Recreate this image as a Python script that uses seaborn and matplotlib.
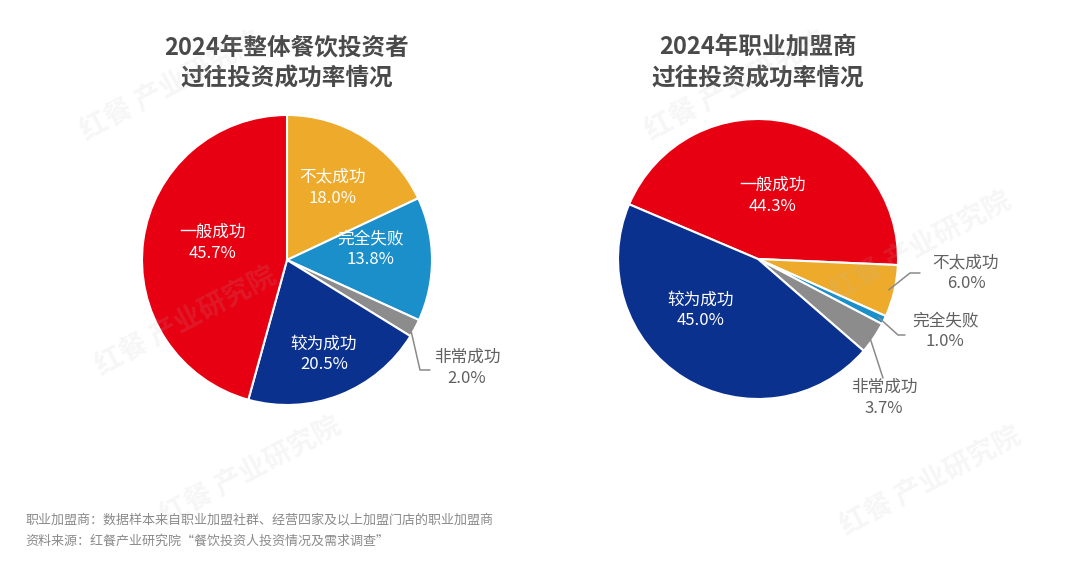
import matplotlib

matplotlib.use("Agg")

import matplotlib.pyplot as plt
import numpy as np
import seaborn as sns

# ---- data -------------------------------------------------------------
left_title = "2024年整体餐饮投资者\n过往投资成功率情况"
left_labels = ["不太成功", "完全失败", "非常成功", "较为成功", "一般成功"]
left_values = [18.0, 13.8, 2.0, 20.5, 45.7]

right_title = "2024年职业加盟商\n过往投资成功率情况"
right_labels = ["一般成功", "不太成功", "完全失败", "非常成功", "较为成功"]
right_values = [44.3, 6.0, 1.0, 3.7, 45.0]

footnotes = [
    "职业加盟商：数据样本来自职业加盟社群、经营四家及以上加盟门店的职业加盟商",
    "资料来源：红餐产业研究院“餐饮投资人投资情况及需求调查”",
]

PALETTE = {
    "一般成功": "#E60012",
    "不太成功": "#EDAA2B",
    "完全失败": "#1A8FC9",
    "非常成功": "#8C8C8C",
    "较为成功": "#0B318F",
}

W, H = 1080, 564


def Y(y):
    # image pixel row -> data y
    return H - y


sns.set_theme(style="white")
plt.rcParams["font.family"] = ["Noto Sans CJK SC", "DejaVu Sans"]

fig = plt.figure(figsize=(W / 100, H / 100), dpi=100)
fig.patch.set_facecolor("white")
ax = fig.add_axes([0, 0, 1, 1])


def draw_pie(values, labels, center, radius, start, inside, outside):
    wedges, _ = ax.pie(
        values,
        colors=[PALETTE[l] for l in labels],
        startangle=start,
        counterclock=False,
        center=center,
        radius=radius,
        wedgeprops=dict(edgecolor="white", linewidth=1.5),
    )
    cx, cy = center
    for w, lab, val in zip(wedges, labels, values):
        mid = np.deg2rad((w.theta1 + w.theta2) / 2)
        text = f"{lab}\n{val:.1f}%"
        if lab in inside:
            frac, dang = inside[lab]
            a = mid + np.deg2rad(dang)
            ax.text(cx + frac * radius * np.cos(a), cy + frac * radius * np.sin(a), text,
                    ha="center", va="center", color="white", fontsize=12,
                    linespacing=1.3, zorder=5)
        else:
            elbow, end, pos = outside[lab]
            sx, sy = cx + 0.96 * radius * np.cos(mid), cy + 0.96 * radius * np.sin(mid)
            pts = [(sx, sy), elbow] + ([end] if end else [])
            ax.plot([p[0] for p in pts], [p[1] for p in pts], color="#8a8a8a", lw=1.1, zorder=5)
            ax.text(pos[0], pos[1], text, ha="center", va="center", color="#606060",
                    fontsize=12, linespacing=1.3, zorder=5)


draw_pie(
    left_values, left_labels, (287, Y(260)), 145, 90,
    inside={"不太成功": (0.59, 0), "完全失败": (0.58, 7), "较为成功": (0.70, 0),
            "一般成功": (0.53, -5)},
    outside={"非常成功": ((420, Y(370)), (430, Y(370)), (467, Y(368)))},
)
draw_pie(
    right_values, right_labels, (758, Y(259)), 140, 157,
    inside={"一般成功": (0.46, 0), "较为成功": (0.55, -16)},
    outside={
        "不太成功": ((910, Y(273)), (920, Y(273)), (966, Y(273))),
        "完全失败": ((898, Y(335)), (905, Y(335)), (945, Y(331))),
        "非常成功": ((883, Y(378)), None, (884, Y(398))),
    },
)

# titles
for x, t in [(287, left_title), (758, right_title)]:
    ax.text(x, Y(63), t, ha="center", va="center", fontsize=17, fontweight="bold",
            color="#4a4a4a", linespacing=1.35)

# footnotes
for i, line in enumerate(footnotes):
    ax.text(25, Y(520 + i * 21), line, ha="left", va="center", fontsize=9.4, color="#8a8a8a")

# faint watermarks
for (x, y) in [(170, 85), (185, 320), (250, 470), (735, 85), (920, 245), (930, 480)]:
    ax.text(x, Y(y), "红餐 产业研究院", ha="center", va="center", rotation=28,
            fontsize=20, fontweight="bold", color="#bdbdbd", alpha=0.13, zorder=6)

ax.set_xlim(0, W)
ax.set_ylim(0, H)
ax.set_aspect("equal")
ax.axis("off")

fig.savefig("out.png", dpi=100, facecolor="white")
